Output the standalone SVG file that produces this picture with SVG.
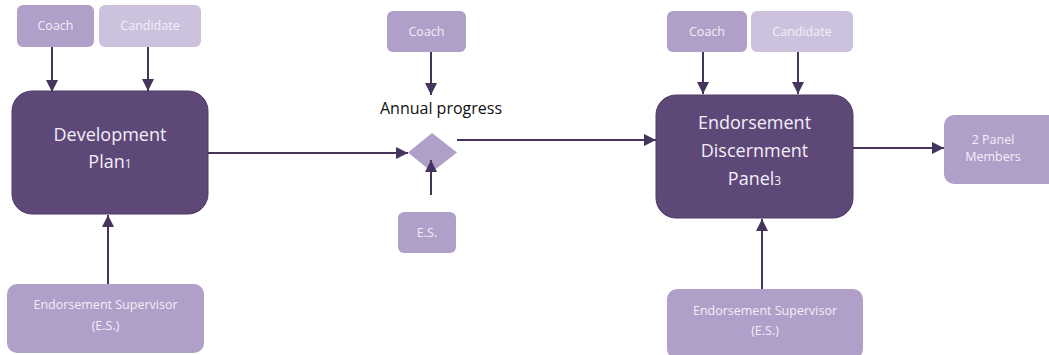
<svg xmlns="http://www.w3.org/2000/svg" width="1049" height="355" viewBox="0 0 1049 355">
<defs>
<style>
.main{fill:#5e4878;stroke:#4e3a66;stroke-width:1}
.sec{fill:#b09fc8}
.lite{fill:#cdc2de}
.wt{font-family:"Open Sans","Liberation Sans",sans-serif;fill:#f3eef8;text-anchor:middle}
.big{font-size:18px}
.sm{font-size:12.5px}
.conn{stroke:#45345c;stroke-width:2;fill:none;marker-end:url(#ah)}
</style>
<marker id="ah" viewBox="0 0 10 10" refX="10" refY="5" markerWidth="12" markerHeight="12" markerUnits="userSpaceOnUse" orient="auto">
<path d="M0,0 L10,5 L0,10 z" fill="#45345c"/>
</marker>
</defs>
<rect width="1049" height="355" fill="#ffffff"/>
<g id="coach1"><rect class="sec" x="17" y="5" width="77" height="42" rx="6"/><text class="wt sm" x="55.5" y="30">Coach</text></g>
<g id="candidate1"><rect class="lite" x="99" y="5" width="102" height="42" rx="6"/><text class="wt sm" x="150" y="30">Candidate</text></g>
<g id="devplan"><rect class="main" x="12" y="91" width="196" height="123" rx="20"/><text class="wt big" x="110" y="141">Development</text><text class="wt big" x="110" y="168">Plan<tspan font-size="12">1</tspan></text></g>
<g id="es1"><rect class="sec" x="7" y="284" width="197" height="69" rx="10"/><text class="wt sm" x="105.5" y="309">Endorsement Supervisor</text><text class="wt sm" x="105.5" y="330">(E.S.)</text></g>
<g id="coach2"><rect class="sec" x="387" y="11" width="79" height="41" rx="6"/><text class="wt sm" x="426.5" y="36">Coach</text></g>
<g id="annual"><polygon class="sec" points="432,133 457,152.5 432,172 408,152.5"/><text x="441" y="114" font-family="Open Sans, Liberation Sans, sans-serif" font-size="16" fill="#111" text-anchor="middle">Annual progress</text></g>
<g id="es2"><rect class="sec" x="398" y="212" width="58" height="41" rx="6"/><text class="wt sm" x="427" y="237">E.S.</text></g>
<g id="coach3"><rect class="sec" x="667" y="11" width="80" height="41" rx="6"/><text class="wt sm" x="707" y="36">Coach</text></g>
<g id="candidate3"><rect class="lite" x="751" y="11" width="102" height="41" rx="6"/><text class="wt sm" x="802" y="36">Candidate</text></g>
<g id="edp"><rect class="main" x="656" y="95" width="197" height="123" rx="20"/><text class="wt big" x="754.5" y="129">Endorsement</text><text class="wt big" x="754.5" y="157">Discernment</text><text class="wt big" x="754.5" y="185">Panel<tspan font-size="12">3</tspan></text></g>
<g id="panelmembers"><rect class="sec" x="944" y="115" width="115" height="69" rx="10"/><text class="wt sm" x="993" y="144">2 Panel</text><text class="wt sm" x="993" y="161">Members</text></g>
<g id="es3"><rect class="sec" x="667" y="289" width="196" height="70" rx="10"/><text class="wt sm" x="765" y="315">Endorsement Supervisor</text><text class="wt sm" x="765" y="335">(E.S.)</text></g>
<g id="connectors">
<line class="conn" x1="52" y1="47" x2="52" y2="92"/>
<line class="conn" x1="148" y1="47" x2="148" y2="91"/>
<line class="conn" x1="108" y1="284" x2="108" y2="215"/>
<line class="conn" x1="208" y1="153" x2="408" y2="153"/>
<line class="conn" x1="431" y1="52" x2="431" y2="95"/>
<line class="conn" x1="431" y1="195" x2="431" y2="160"/>
<line class="conn" x1="457" y1="140" x2="656" y2="140"/>
<line class="conn" x1="703" y1="52" x2="703" y2="94"/>
<line class="conn" x1="798" y1="52" x2="798" y2="94"/>
<line class="conn" x1="762" y1="289" x2="762" y2="219"/>
<line class="conn" x1="853" y1="148" x2="944" y2="148"/>
</g>
</svg>
